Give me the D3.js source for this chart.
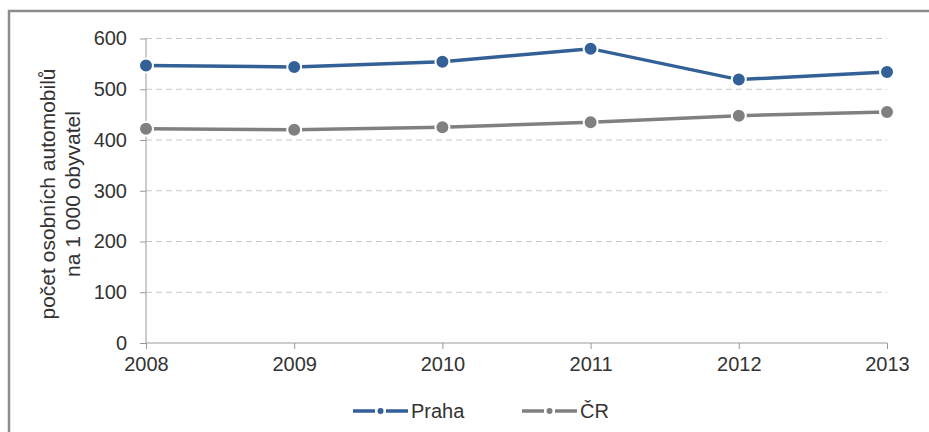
<!DOCTYPE html>
<html>
<head>
<meta charset="utf-8">
<script src="https://cdn.jsdelivr.net/npm/d3@7"></script>
<style>
  body { margin: 0; background: #fff; }
  text { font-family: Arial, "Liberation Sans", sans-serif; fill: #333; }
</style>
</head>
<body>
<div id="chart"></div>
<script>
let years = [2008, 2009, 2010, 2011, 2012, 2013]
let praha = [547, 544, 554, 580, 519, 534]
let cr = [422, 420, 425, 435, 448, 455]
let yTicks = [0, 100, 200, 300, 400, 500, 600]
let seriesNames = ["Praha", "ČR"]
let seriesColors = ["#336096", "#808080"]

let svgWidth = 929
let svgHeight = 432

drawChart()

function drawChart(){
  let svg = d3.select("#chart")
    .append("svg")
      .attr("width", svgWidth)
      .attr("height", svgHeight)

  // outer frame (runs off the right and bottom edge)
  svg.append("rect")
    .attr("x", 9).attr("y", 11)
    .attr("width", 960).attr("height", 460)
    .attr("fill", "none")
    .attr("stroke", "#8c8c8c")
    .attr("stroke-width", 2.5)

  let x = d3.scalePoint().domain(years).range([146, 887])
  let y = d3.scaleLinear().domain([0, 600]).range([343, 38.5])

  // gridlines
  svg.append("g")
    .selectAll("line")
    .data(yTicks.filter(d => d > 0))
    .enter()
    .append("line")
      .attr("x1", 146).attr("x2", 887)
      .attr("y1", d => y(d)).attr("y2", d => y(d))
      .attr("stroke", "#c8c8c8")
      .attr("stroke-width", 1)
      .attr("stroke-dasharray", "6,4")

  let yAxis = svg.append("g")
    .attr("transform", "translate(146,0)")
    .call(d3.axisLeft(y).tickValues(yTicks).tickSize(6).tickPadding(13))
  yAxis.select(".domain").attr("stroke", "#999").attr("d", "M0," + y(600) + "V" + y(0))
  yAxis.selectAll(".tick line").attr("stroke", "#999")
  yAxis.selectAll("text").style("font-size", "20px").attr("fill", "#333")

  let xAxis = svg.append("g")
    .attr("transform", "translate(0,343)")
    .call(d3.axisBottom(x).tickSize(6).tickPadding(8).tickFormat(d3.format("d")))
  xAxis.select(".domain").attr("stroke", "#999").attr("d", "M146,0H887")
  xAxis.selectAll(".tick line").attr("stroke", "#999")
  xAxis.selectAll("text").style("font-size", "20px").attr("fill", "#333")

  // y-axis title
  let title = svg.append("text")
    .attr("transform", "translate(55,194) rotate(-90)")
    .attr("text-anchor", "middle")
    .style("font-size", "21px")
  title.append("tspan").attr("x", 0).attr("dy", 0).text("počet osobních automobilů")
  title.append("tspan").attr("x", 0).attr("dy", 25).text("na 1 000 obyvatel")

  let series = [praha, cr]
  let line = d3.line()
    .x((d, i) => x(years[i]))
    .y(d => y(d))

  series.forEach(function(values, s){
    let g = svg.append("g")
    g.append("path")
      .datum(values)
      .attr("d", line)
      .attr("fill", "none")
      .attr("stroke", seriesColors[s])
      .attr("stroke-width", 3.5)
    g.selectAll("circle")
      .data(values)
      .enter()
      .append("circle")
        .attr("cx", (d, i) => x(years[i]))
        .attr("cy", d => y(d))
        .attr("r", 7)
        .attr("fill", seriesColors[s])
        .attr("stroke", "#fff")
        .attr("stroke-width", 2)
  })

  // legend
  let legendX = [353, 522]
  seriesNames.forEach(function(name, s){
    let lg = svg.append("g").attr("transform", "translate(" + legendX[s] + ",411)")
    lg.append("line").attr("x1", 0).attr("x2", 22).attr("y1", 0).attr("y2", 0)
      .attr("stroke", seriesColors[s]).attr("stroke-width", 3.5)
    lg.append("line").attr("x1", 33).attr("x2", 55).attr("y1", 0).attr("y2", 0)
      .attr("stroke", seriesColors[s]).attr("stroke-width", 3.5)
    lg.append("circle").attr("cx", 27.5).attr("cy", 0).attr("r", 3)
      .attr("fill", seriesColors[s])
    lg.append("text").attr("x", 58).attr("y", 7)
      .style("font-size", "20px")
      .text(name)
  })
}
</script>
</body>
</html>
